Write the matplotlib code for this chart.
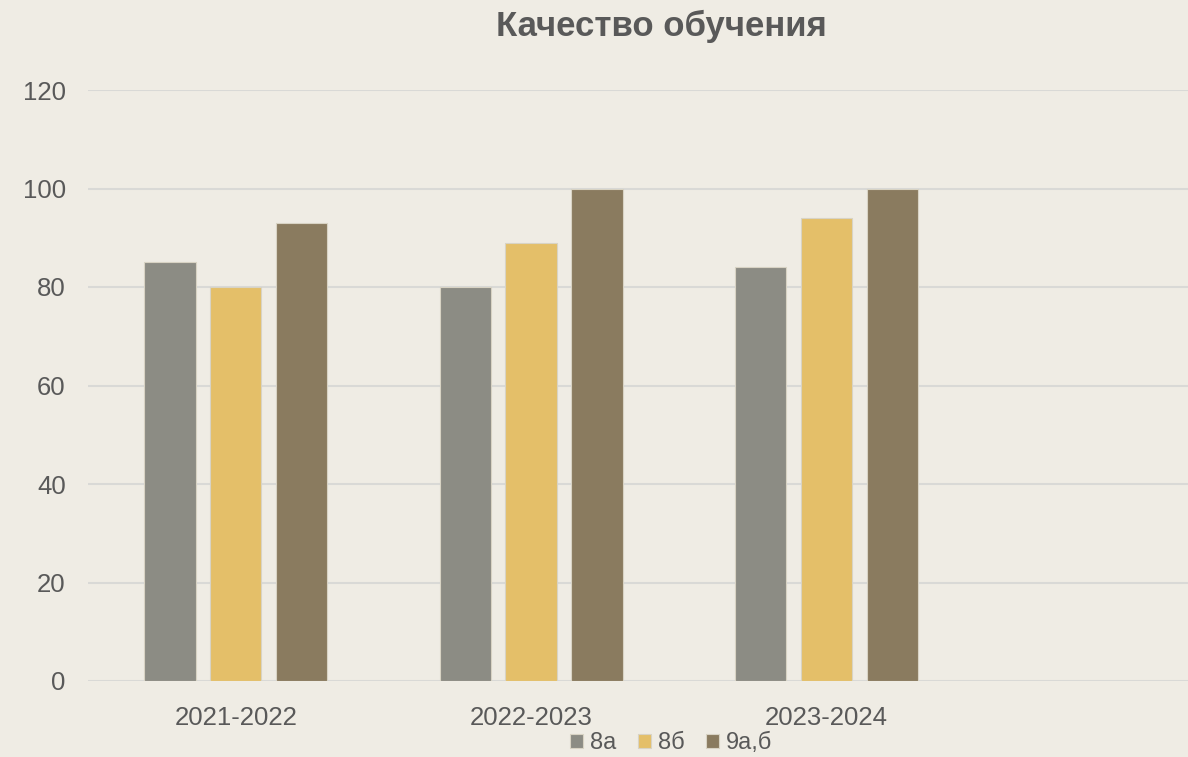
import numpy as np
import matplotlib
matplotlib.use('Agg')
import matplotlib.pyplot as plt

plt.rcParams['font.family'] = ['Liberation Sans', 'DejaVu Sans']

years = ['2021-2022', '2022-2023', '2023-2024']
v_8a = [85, 80, 84]
v_8b = [80, 89, 94]
v_9ab = [93, 100, 100]
names = ['8а', '8б', '9а,б']
colors = ['#8c8c84', '#e4bf69', '#8a7b5f']

bg = '#efece4'
txt = '#595959'

W, H = 1188, 757
fig = plt.figure(figsize=(W / 100, H / 100), dpi=100, facecolor=bg)
ax = fig.add_axes([88 / W, (H - 681) / H, (W - 88) / W, (681 - 90) / H])
ax.set_facecolor(bg)

x = np.arange(len(years))
step = 0.223
width = 0.174
for i, (vals, nm, c) in enumerate(zip([v_8a, v_8b, v_9ab], names, colors)):
    ax.bar(x + (i - 1) * step, vals, width, color=c, label=nm,
           edgecolor='#d8d3c4', linewidth=0.8, zorder=3)

ax.set_xlim(-0.5, 3.223)
ax.set_ylim(0, 120)
ax.set_yticks(range(0, 121, 20))
ax.set_xticks(x)
ax.set_xticklabels(years)
ax.grid(axis='y', color='#d9d9d6', linewidth=1.5, zorder=0)
for s in ax.spines.values():
    s.set_visible(False)
ax.tick_params(length=0, labelsize=18.5, colors=txt)
ax.tick_params(axis='y', pad=16)
ax.tick_params(axis='x', pad=18)

fig.text(661 / W, 1 - 26 / H, 'Качество обучения', ha='center', va='center',
         fontsize=25, fontweight='bold', color=txt)

leg = fig.legend(loc='center', bbox_to_anchor=(671 / W, 1 - 743 / H), ncol=3,
                 frameon=False, fontsize=17, handlelength=0.55, handleheight=0.55,
                 handletextpad=0.3, columnspacing=0.9, labelcolor=txt)

plt.savefig('out.png', dpi=100, facecolor=bg)
